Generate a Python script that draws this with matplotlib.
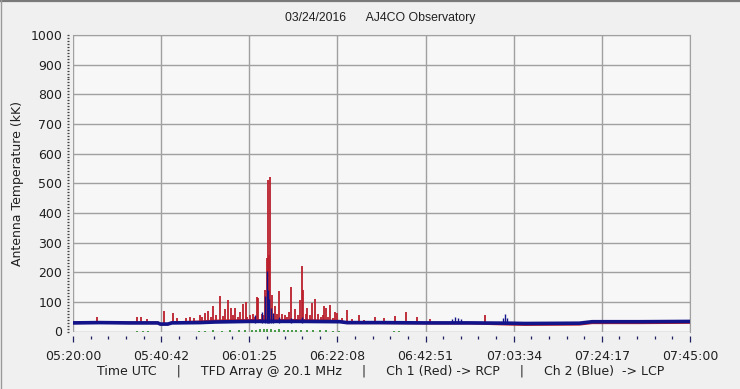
import matplotlib
matplotlib.use('Agg')
import matplotlib.pyplot as plt
from matplotlib.lines import Line2D
from matplotlib.ticker import MultipleLocator, FixedLocator
import numpy as np
import pandas as pd

# --- data (time UTC, antenna temperature kK) ---
start = '05:20:00'
x_ticklabels = ['05:20:00', '05:40:42', '06:01:25', '06:22:08',
                '06:42:51', '07:03:34', '07:24:17', '07:45:00']

# Ch 1 (red, RCP) burst spikes
red_spike_time = ['05:25:40', '05:35:04', '05:35:56', '05:37:25', '05:41:25', '05:43:34',
                  '05:44:28', '05:46:40', '05:47:27', '05:48:30', '05:49:48', '05:50:20',
                  '05:51:08', '05:51:45', '05:52:20', '05:52:56', '05:53:40', '05:54:30',
                  '05:55:10', '05:55:50', '05:56:23', '05:57:01', '05:57:40', '05:58:06',
                  '05:58:40', '05:59:12', '05:59:59', '06:00:37', '06:01:00', '06:01:40',
                  '06:02:20', '06:02:50', '06:03:08', '06:03:30', '06:04:22', '06:04:50',
                  '06:05:14', '06:05:29', '06:05:43', '06:06:05', '06:06:19', '06:06:53',
                  '06:07:26', '06:07:50', '06:08:26', '06:09:04', '06:09:47', '06:10:20',
                  '06:10:50', '06:11:15', '06:12:17', '06:12:50', '06:13:25', '06:13:53',
                  '06:14:05', '06:14:40', '06:15:04', '06:15:40', '06:16:07', '06:16:57',
                  '06:17:32', '06:18:10', '06:18:40', '06:19:04', '06:19:32', '06:20:00',
                  '06:20:28', '06:21:00', '06:21:32', '06:22:00', '06:23:10', '06:24:25',
                  '06:25:40', '06:27:17', '06:28:30', '06:30:56', '06:33:03', '06:35:38',
                  '06:38:13', '06:40:52', '06:43:51', '06:56:47', '07:43:19']
red_spike_kk = [50, 50, 48, 42, 70, 62,
                45, 45, 50, 45, 57, 48,
                62, 68, 50, 86, 55, 120,
                52, 75, 106, 80, 55, 80,
                50, 65, 92, 101, 48, 55,
                58, 50, 118, 112, 60, 55,
                140, 247, 510, 258, 520, 123,
                85, 60, 135, 60, 55, 50,
                65, 151, 75, 55, 106, 221,
                140, 60, 78, 55, 95, 110,
                60, 50, 55, 86, 80, 50,
                90, 45, 65, 62, 45, 73,
                42, 55, 40, 48, 45, 52,
                65, 50, 42, 55, 40]

# Ch 2 (blue, LCP) spikes
blue_spike_time = ['06:02:44', '06:04:30', '06:05:12', '06:05:29', '06:05:47', '06:06:08',
                   '06:06:29', '06:07:00', '06:08:22', '06:11:11', '06:13:46',
                   '06:49:01', '06:49:43', '06:50:25', '06:51:07',
                   '07:01:01', '07:01:29', '07:01:57']
blue_spike_kk = [55, 65, 120, 205, 140, 110,
                 80, 62, 50, 46, 50,
                 42, 48, 45, 41,
                 46, 60, 44]

# quiet-sun baseline levels
base_time = ['05:20:00', '05:26:18', '05:33:21', '05:39:56', '05:40:31', '05:42:17',
             '05:43:13', '05:49:48', '05:53:20', '06:01:23', '06:13:18', '06:22:42',
             '06:24:21', '06:32:06', '06:42:41', '06:53:15', '07:02:40', '07:06:11',
             '07:19:00', '07:22:00', '07:33:13', '07:45:00']
blue_base_kk = [29, 30, 29, 29, 25, 25,
                29, 30, 32, 34, 34, 33,
                30, 30, 29, 29, 28, 27,
                28, 33, 33, 34]
red_base_kk = [29, 30, 29, 29, 25, 25,
               30, 33, 36, 38, 38, 35,
               29, 29, 28, 28, 24, 23,
               24, 29, 29, 30]

# green channel (near zero)
green_time = ['05:35:00', '05:36:30', '05:37:40', '05:49:30', '05:51:00', '05:53:00',
              '05:55:00', '05:57:00', '05:59:00', '06:00:30', '06:02:00', '06:03:00',
              '06:04:00', '06:05:00', '06:05:40', '06:06:30', '06:07:30', '06:08:30',
              '06:09:30', '06:10:30', '06:11:30', '06:12:30', '06:13:30', '06:15:00',
              '06:16:30', '06:18:00', '06:19:30', '06:21:00', '06:22:30', '06:35:30',
              '06:36:30']
green_kk = [3, 3, 3, 3, 3, 4,
            3, 4, 4, 5, 5, 6,
            7, 9, 8, 7, 6, 7,
            6, 5, 5, 5, 5, 4,
            4, 4, 4, 3, 3, 3,
            3]


def secs(times):
    t = pd.to_timedelta(pd.Series(times)) - pd.to_timedelta(start)
    return t.dt.total_seconds().to_numpy()


RED = '#bb1f2c'
BLUE = '#14148a'
GREEN = '#2a8a2a'
GRID = '#a0a0a0'

fig = plt.figure(figsize=(7.40, 3.89), dpi=100, facecolor='#f0f0f0')
ax = fig.add_axes([73 / 740, 57.5 / 389, 617 / 740, 296.5 / 389])
ax.set_facecolor('#f7f7f7')

# curves
ax.plot(secs(base_time), red_base_kk, color=RED, lw=1.8, zorder=2)
ax.vlines(secs(red_spike_time), 28, red_spike_kk, color=RED, lw=1.3, zorder=3)
ax.vlines(secs(green_time), 0, green_kk, color=GREEN, lw=1.2, zorder=3)
ax.plot(secs(base_time), blue_base_kk, color=BLUE, lw=2.6, zorder=4)
ax.vlines(secs(blue_spike_time), 28, blue_spike_kk, color=BLUE, lw=1.0, zorder=5)

# axes
total = secs(['07:45:00'])[0]
ax.set_xlim(0, total)
ax.set_ylim(0, 1000)
xt = np.linspace(0, total, len(x_ticklabels))
ax.xaxis.set_major_locator(FixedLocator(xt))
ax.xaxis.set_minor_locator(FixedLocator(np.linspace(0, total, 5 * (len(x_ticklabels) - 1) + 1)))
ax.set_xticklabels(x_ticklabels)
ax.yaxis.set_major_locator(MultipleLocator(100))
ax.yaxis.set_minor_locator(MultipleLocator(10))

ax.grid(True, which='major', color=GRID, lw=1.0, zorder=0)
ax.set_axisbelow(True)
for s in ['top', 'right']:
    ax.spines[s].set_color(GRID)
for s in ['bottom', 'left']:
    ax.spines[s].set_position(('outward', 3))
    ax.spines[s].set_visible(False)

ax.tick_params(axis='x', which='major', length=4.5, width=0.9, color='#202060',
               labelsize=9, pad=6, labelcolor='#202020')
ax.tick_params(axis='x', which='minor', length=2.2, width=0.9, color='#202060')
ax.tick_params(axis='y', which='both', length=1.6, width=0.9, color='#404040',
               labelsize=9, pad=3, labelcolor='#202020')

fig.text(380 / 740, 1 - 18 / 389, '03/24/2016      AJ4CO Observatory',
         ha='center', va='center', fontsize=8.8,
         family=['Liberation Sans', 'DejaVu Sans'], color='#202020')
fig.text(18 / 740, 1 - 183 / 389, 'Antenna Temperature (kK)', rotation=90,
         ha='center', va='center', fontsize=9, color='#202020')
fig.text(381 / 740, 1 - 372 / 389,
         'Time UTC     |     TFD Array @ 20.1 MHz     |     Ch 1 (Red) -> RCP     |     Ch 2 (Blue)  -> LCP',
         ha='center', va='center', fontsize=9, color='#202020')

# window frame lines
fig.add_artist(Line2D([0, 1], [1 - 1 / 389, 1 - 1 / 389], transform=fig.transFigure,
                      color='#7a7a7a', lw=1.6))
fig.add_artist(Line2D([0.6 / 740, 0.6 / 740], [0, 1], transform=fig.transFigure,
                      color='#9a9a9a', lw=1.0))

fig.savefig('out.png', dpi=100, facecolor=fig.get_facecolor())
